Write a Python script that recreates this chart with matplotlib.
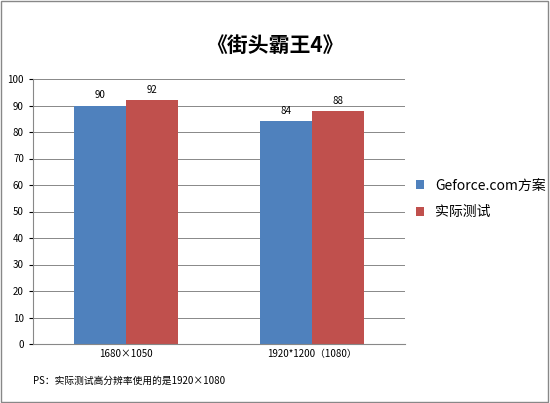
import matplotlib.pyplot as plt
import numpy as np

plt.rcParams['font.family'] = ['Noto Sans CJK SC', 'DejaVu Sans']

categories = ['1680×1050', '1920*1200（1080）']
series_names = ['Geforce.com方案', '实际测试']
geforce = [90, 84]
actual = [92, 88]
colors = ['#4F81BD', '#C0504D']

fig = plt.figure(figsize=(5.5, 4.03), dpi=100)
ax = fig.add_axes([33/550, 1 - 344/403, (405-33)/550, (344-79)/403])

x = np.arange(len(categories))
w = 0.28
b1 = ax.bar(x - w/2, geforce, w, color=colors[0], label=series_names[0])
b2 = ax.bar(x + w/2, actual, w, color=colors[1], label=series_names[1])
for bars in (b1, b2):
    for r in bars:
        ax.text(r.get_x() + r.get_width()/2, r.get_height() + 2, str(int(r.get_height())),
                ha='center', va='bottom', fontsize=7)

ax.set_xlim(-0.5, 1.5)
ax.set_ylim(0, 100)
ax.set_yticks(range(0, 101, 10))
ax.set_xticks(x)
ax.set_xticklabels(categories, fontsize=7)
ax.tick_params(axis='y', labelsize=7, length=3)
ax.tick_params(axis='x', length=0)
ax.yaxis.grid(True, color='#888888', linewidth=0.7)
ax.set_axisbelow(True)
for s in ['top', 'right']:
    ax.spines[s].set_visible(False)
for s in ['left', 'bottom']:
    ax.spines[s].set_color('#888888')

fig.text(0.5, 1 - 45/403, '《街头霸王4》', ha='center', va='center', fontsize=15, fontweight='bold')
fig.legend(loc='center left', bbox_to_anchor=(403/550, 1 - 199/403), frameon=False,
           fontsize=10, handlelength=0.6, handleheight=0.6, labelspacing=0.9)
fig.text(33/550, 1 - 381/403, 'PS：实际测试高分辨率使用的是1920×1080', fontsize=7, va='center')

fig.patches.append(plt.Rectangle((0.002, 0.002), 0.995, 0.995, transform=fig.transFigure,
                                 fill=False, edgecolor='#888888', linewidth=1))
fig.savefig('out.png', dpi=100)
